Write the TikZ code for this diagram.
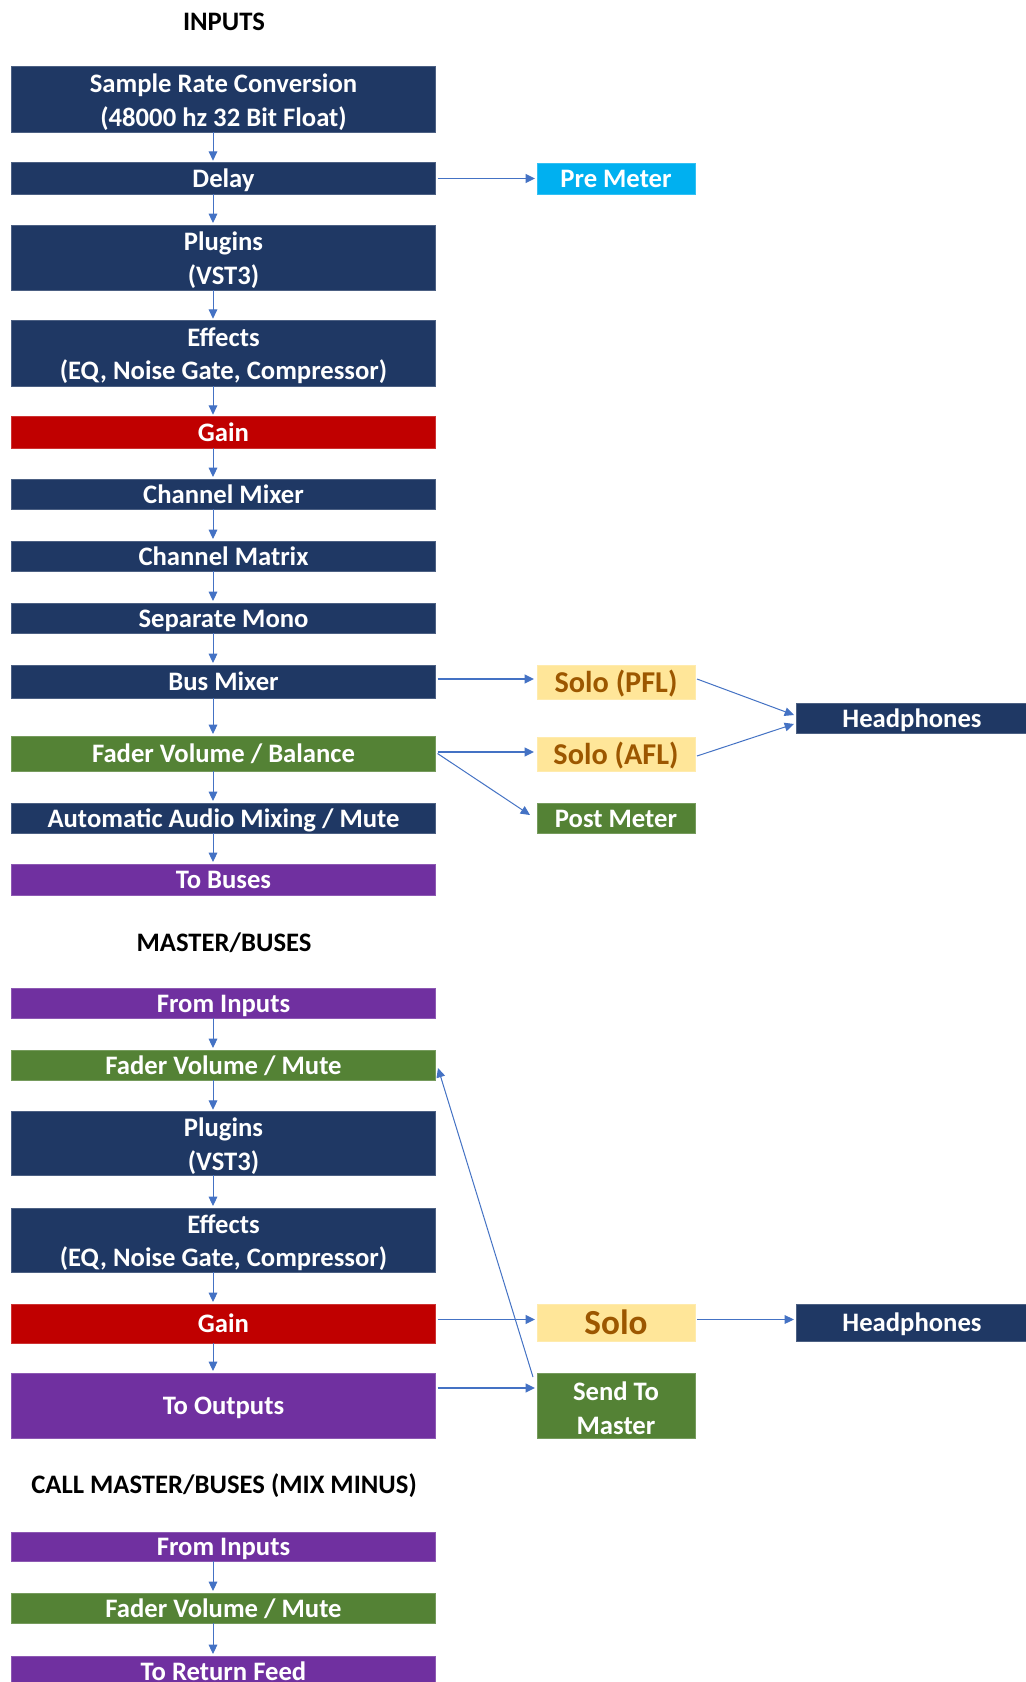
\documentclass[tikz,border=0pt]{standalone}
\usepackage{fontspec}
\setmainfont{Carlito}
\usetikzlibrary{arrows.meta,calc}
\definecolor{navy}{HTML}{1F3864}
\definecolor{cred}{HTML}{C00000}
\definecolor{cgreen}{HTML}{548235}
\definecolor{cpurple}{HTML}{7030A0}
\definecolor{cblue}{HTML}{00B0F0}
\definecolor{cyel}{HTML}{FFE699}
\definecolor{cbrown}{HTML}{9C5700}
\definecolor{arrowc}{HTML}{4472C4}
\newcommand{\topstrut}{\rule{0pt}{18pt}}
\tikzset{
  box/.style={rectangle, inner sep=0pt, outer sep=0pt, text=white,
    font=\fontsize{20}{25}\selectfont\bfseries, align=center,
    fill=#1, draw=#1!80!white, line width=0.4pt},
  one/.style={text height=17pt, text depth=3pt},
  mainbox/.style={box=#1, minimum width=424*0.75pt},
  sidebox/.style={box=#1, minimum width=158*0.75pt},
  hpbox/.style={box=navy, one, minimum width=232*0.75pt},
  bh/.style={minimum height=#1*0.75pt},
  solom/.style={text=cbrown, font=\fontsize{22.7}{27}\selectfont\bfseries,
    text height=19.3pt, text depth=3.4pt},
  solob/.style={text=cbrown, font=\fontsize{26.4}{30}\selectfont\bfseries,
    text height=22.4pt, text depth=4pt},
  title/.style={font=\fontsize{20}{25}\selectfont\bfseries, text=black, inner sep=0pt},
  tip/.style={-{Triangle[length=7pt,width=6.5pt]}},
  varr/.style={tip, draw=arrowc, line width=0.75pt},
  harr/.style={tip, draw=arrowc, line width=1.2pt},
  darr/.style={tip, draw=arrowc, line width=0.75pt},
}
\begin{document}
\begin{tikzpicture}[x=0.75pt,y=-0.75pt]
\useasboundingbox (0,0) rectangle (1025,1682);
\fill[white] (0,0) rectangle (1025,1682);

% ---- INPUTS ----
\node[title] (t1) at (224,21.7) {INPUTS};
\node[mainbox=navy, bh=65.6] (src) at (223.5,99.5) {\topstrut Sample Rate Conversion\\(48000 hz 32 Bit Float)};
\node[mainbox=navy, one, bh=31.6] (delay) at (223.5,178.5) {Delay};
\node[mainbox=navy, bh=65] (plug1) at (223.5,257.5) {\topstrut Plugins\\(VST3)};
\node[mainbox=navy, bh=65.3] (eff1) at (223.5,353.35) {\topstrut Effects\\(EQ, Noise Gate, Compressor)};
\node[mainbox=cred, one, bh=31.3] (gain1) at (223.5,432.35) {Gain};
\node[mainbox=navy, one, bh=30] (cmix) at (223.5,494) {Channel Mixer};
\node[mainbox=navy, one, bh=30] (cmat) at (223.5,556) {Channel Matrix};
\node[mainbox=navy, one, bh=30] (smono) at (223.5,618) {Separate Mono};
\node[mainbox=navy, one, bh=33] (bmix) at (223.5,681.5) {Bus Mixer};
\node[mainbox=cgreen, one, bh=35] (fbal) at (223.5,753.5) {Fader Volume / Balance};
\node[mainbox=navy, one, bh=30] (auto) at (223.5,818) {Automatic Audio Mixing / Mute};
\node[mainbox=cpurple, one, bh=31] (tobus) at (223.5,879.5) {To Buses};

\node[sidebox=cblue, one, bh=31] (pre) at (616,178.5) {Pre Meter};
\node[sidebox=cyel, solom, bh=34] (pfl) at (616,682) {Solo (PFL)};
\node[sidebox=cyel, solom, bh=34] (afl) at (616,754) {Solo (AFL)};
\node[sidebox=cgreen, one, bh=30] (post) at (616,818) {Post Meter};
\node[hpbox, bh=30] (hp1) at (912,718) {Headphones};

% ---- MASTER/BUSES ----
\node[title] (t2) at (224,943) {MASTER/BUSES};
\node[mainbox=cpurple, one, bh=30] (fin1) at (223.5,1003) {From Inputs};
\node[mainbox=cgreen, one, bh=30] (fmute1) at (223.5,1065) {Fader Volume / Mute};
\node[mainbox=navy, bh=63.5] (plug2) at (223.5,1143.5) {\topstrut Plugins\\(VST3)};
\node[mainbox=navy, bh=64] (eff2) at (223.5,1240) {\topstrut Effects\\(EQ, Noise Gate, Compressor)};
\node[mainbox=cred, one, bh=39] (gain2) at (223.5,1323.5) {Gain};
\node[mainbox=cpurple, one, bh=65] (outs) at (223.5,1405.5) {To Outputs};

\node[sidebox=cyel, solob, bh=37] (solo) at (616,1322.5) {Solo};
\node[sidebox=cgreen, bh=65] (send) at (616,1405.5) {\topstrut Send To\\Master};
\node[hpbox, bh=37] (hp2) at (912,1322.5) {Headphones};

% ---- CALL MASTER/BUSES ----
\node[title] (t3) at (224,1486) {CALL MASTER/BUSES (MIX MINUS)};
\node[mainbox=cpurple, one, bh=29] (fin2) at (223.5,1546.5) {From Inputs};
\node[mainbox=cgreen, one, bh=30] (fmute2) at (223.5,1608) {Fader Volume / Mute};
\node[mainbox=cpurple, one, bh=30] (ret) at (223.5,1671) {To Return Feed};

% ---- vertical links ----
\foreach \a/\b in {src/delay, delay/plug1, plug1/eff1, eff1/gain1, gain1/cmix,
  cmix/cmat, cmat/smono, smono/bmix, bmix/fbal, fbal/auto, auto/tobus,
  fin1/fmute1, fmute1/plug2, plug2/eff2, eff2/gain2, gain2/outs,
  fin2/fmute2, fmute2/ret}
  \draw[varr] ($(\a.south)+(-10.5,0)$) -- ($(\b.north)+(-10.5,-2)$);

% ---- side links ----
\draw[harr] ($(delay.east)+(2,0)$) -- ($(pre.west)+(-2,0)$);
\draw[harr] ($(bmix.east)+(2,-2.5)$) -- ($(pfl.west)+(-3,-3)$);
\draw[harr] ($(fbal.east)+(2,-1.5)$) -- ($(afl.west)+(-3,-2)$);
\draw[darr] ($(fbal.east)+(2,0)$) -- ($(post.west)+(-7,-3)$);
\draw[darr] ($(pfl.east)+(2,-3)$) -- ($(hp1.west)+(-2,-3)$);
\draw[darr] ($(afl.east)+(2,2)$) -- ($(hp1.west)+(-2,6)$);

\draw[harr] ($(gain2.east)+(2,-4)$) -- ($(solo.west)+(-2,-3)$);
\draw[darr] ($(solo.east)+(2,-3)$) -- ($(hp2.west)+(-2,-3)$);
\draw[harr] ($(outs.north east)+(2,15)$) -- ($(send.north west)+(-2,15)$);
\draw[darr] ($(send.north west)+(-4,4)$) -- ($(fmute1.east)+(2.5,3)$);
\end{tikzpicture}
\end{document}
